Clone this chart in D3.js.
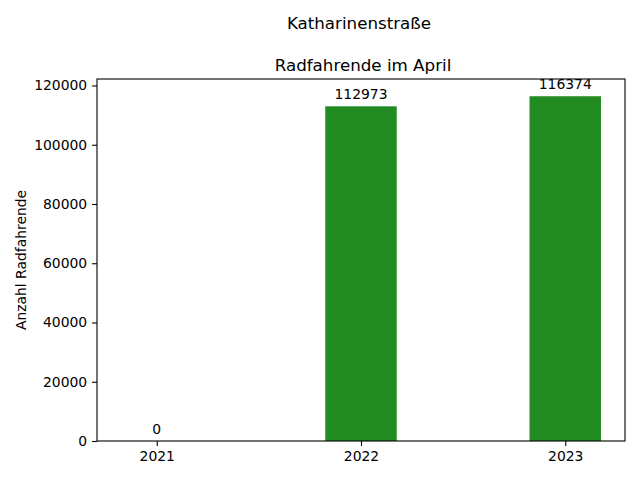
<!DOCTYPE html>
<html><head><meta charset="utf-8">
<script src="https://cdn.jsdelivr.net/npm/d3@7"></script>
<style>body{margin:0;background:#fff}svg{display:block}text{font-family:"DejaVu Sans",sans-serif;fill:#000}</style>
</head><body><svg id="c" width="640" height="480"></svg>
<script>
const categories = ["2021","2022","2023"];
const values = [0, 112973, 116374];
const yTicks = [0,20000,40000,60000,80000,100000,120000];
const suptitle = "Katharinenstraße";
const title = "Radfahrende im April";
const yLabel = "Anzahl Radfahrende";

const svg = d3.select("#c");
const L=97, R=625, T=79, B=441;
const bw = 0.35;
const x = d3.scaleLinear().domain([-bw/2-0.1175, 2+bw/2+0.1175]).range([L,R]);
const yMax = d3.max(values)*1.05;
const y = d3.scaleLinear().domain([0,yMax]).range([B,T]);

svg.append("g").selectAll("rect").data(values).join("rect")
  .attr("x",(d,i)=>x(i-bw/2)).attr("width",(d,i)=>x(i+bw/2)-x(i-bw/2))
  .attr("y",d=>y(d)).attr("height",d=>B-y(d)).attr("fill","#228B22");

svg.append("g").selectAll("text").data(values).join("text")
  .attr("x",(d,i)=>x(i)).attr("y",d=>y(d)-7.4).attr("text-anchor","middle")
  .style("font-size","13.9px").text(d=>d);

const ax = d3.axisBottom(x).tickValues([0,1,2]).tickFormat(i=>categories[i]).tickSize(4.9).tickPadding(4.9);
const gx = svg.append("g").attr("transform",`translate(0,${B})`).call(ax);
const ay = d3.axisLeft(y).tickValues(yTicks).tickFormat(d=>d).tickSize(4.9).tickPadding(4.9);
const gy = svg.append("g").attr("transform",`translate(${L},0)`).call(ay);
[gx,gy].forEach(g=>{g.select(".domain").remove();g.selectAll("line").attr("stroke","#000").attr("stroke-width",1.1);
  g.selectAll("text").style("font-size","13.9px").attr("font-family","DejaVu Sans");});

svg.append("rect").attr("x",L).attr("y",T).attr("width",R-L).attr("height",B-T)
  .attr("fill","none").attr("stroke","#000").attr("stroke-width",1.1);

svg.append("text").attr("x",(L+R)/2-2).attr("y",29).attr("text-anchor","middle").style("font-size","16.7px").text(suptitle);
svg.append("text").attr("x",(L+R)/2+2).attr("y",71).attr("text-anchor","middle").style("font-size","16.7px").text(title);
svg.append("text").attr("transform",`translate(26,${(T+B)/2}) rotate(-90)`).attr("text-anchor","middle").style("font-size","13.9px").text(yLabel);
</script></body></html>
